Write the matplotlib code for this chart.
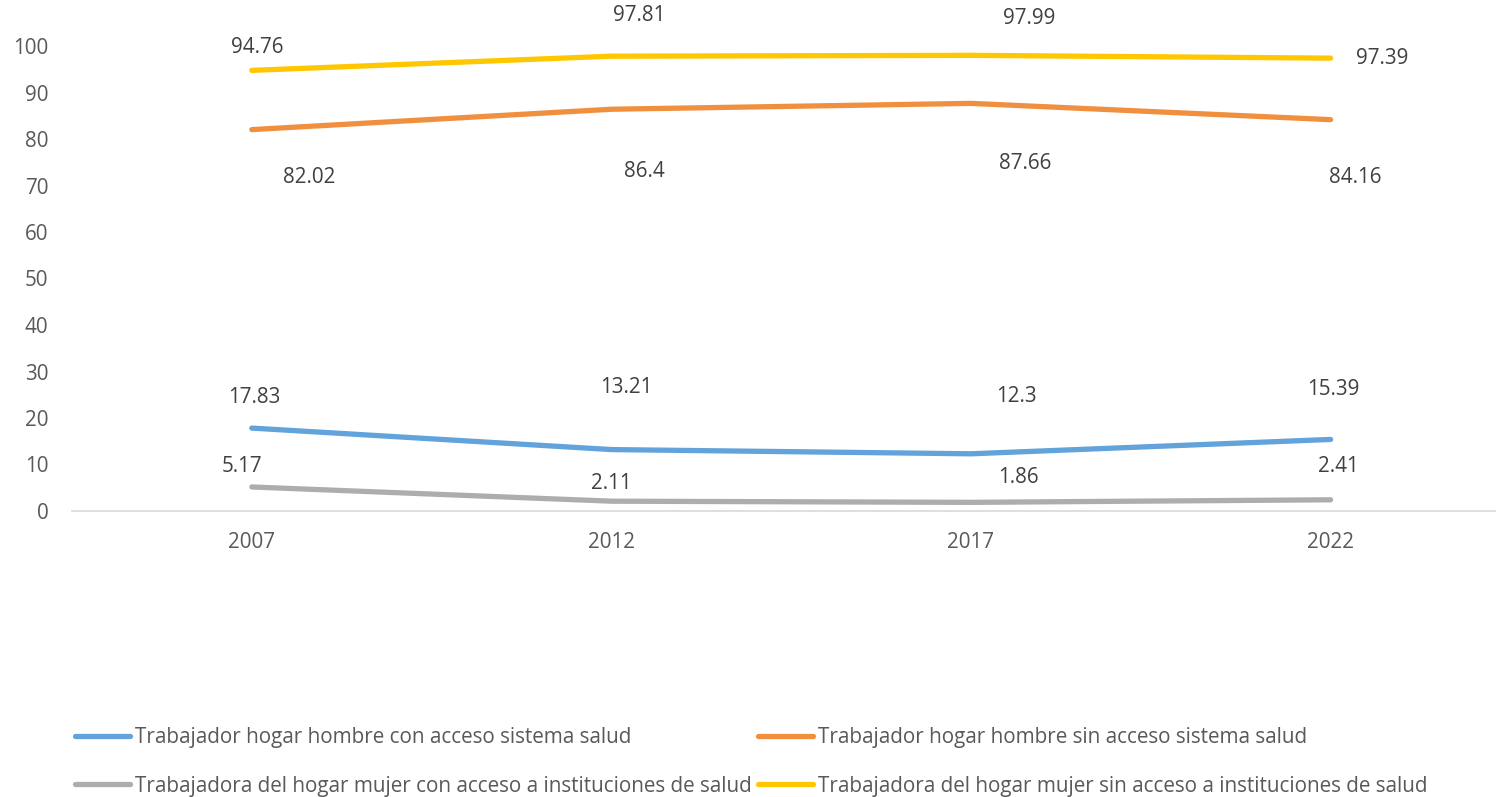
import matplotlib
matplotlib.use("Agg")
import matplotlib.pyplot as plt

years = ["2007", "2012", "2017", "2022"]
hombre_con = [17.83, 13.21, 12.3, 15.39]
hombre_sin = [82.02, 86.4, 87.66, 84.16]
mujer_con = [5.17, 2.11, 1.86, 2.41]
mujer_sin = [94.76, 97.81, 97.99, 97.39]
labels = [
    "Trabajador hogar hombre con acceso sistema salud",
    "Trabajador hogar hombre sin acceso sistema salud",
    "Trabajadora del hogar mujer con acceso a instituciones de salud",
    "Trabajadora del hogar mujer sin acceso a instituciones de salud",
]

plt.rcParams["font.family"] = ["Open Sans", "DejaVu Sans"]
txt = "#404040"
tick_col = "#595959"
fs = 14.9

W, H = 1496, 797
fig = plt.figure(figsize=(W / 100, H / 100), dpi=100)
ax = fig.add_axes([72 / W, (H - 511) / H, (W - 72) / W, 511.5 / H])

# label offsets (pixels) copy the hand-placed labels of the original
series = [
    (hombre_con, "#62A3DB", labels[0],
     [(3, 31), (15, 62), (45, 57), (3, 50)]),
    (hombre_sin, "#F0903F", labels[1],
     [(57, -48), (33, -62), (54, -60), (25, -58)]),
    (mujer_con, "#ADADAD", labels[2],
     [(-10, 20), (0, 18), (47, 25), (8, 33)]),
    (mujer_sin, "#FFC700", labels[3],
     [(5, 23), (28, 41), (58, 37), (52, 0)]),
]

x = list(range(len(years)))
handles = {}
for vals, col, lab, offs in series:
    ln, = ax.plot(x, vals, color=col, lw=3.8, solid_capstyle="round", label=lab)
    handles[lab] = ln
    for xi, v, (dx, dy) in zip(x, vals, offs):
        ax.annotate(f"{v:g}", (xi, v), xytext=(dx, dy), textcoords="offset pixels",
                    ha="center", va="center", fontsize=fs, color=txt)

ax.set_xlim(-0.5, 3.46)
ax.set_ylim(0, 110)
ax.set_yticks(range(0, 101, 10))
ax.set_xticks(x)
ax.set_xticklabels(years)
for s in ["top", "right", "left"]:
    ax.spines[s].set_visible(False)
ax.spines["bottom"].set_color("#D9D9D9")
ax.spines["bottom"].set_linewidth(1.2)
ax.tick_params(axis="both", length=0, labelsize=fs, labelcolor=tick_col)
ax.tick_params(axis="y", pad=17)
ax.tick_params(axis="x", pad=15)

order = [labels[0], labels[2], labels[1], labels[3]]
leg = fig.legend([handles[l] for l in order], order, loc="upper left",
                 bbox_to_anchor=(75 / W, 1 - 727 / H), ncol=2, frameon=False,
                 fontsize=fs, handlelength=2.65, handletextpad=0.25,
                 columnspacing=0.3, labelspacing=1.33, borderaxespad=0,
                 borderpad=0)
for t in leg.get_texts():
    t.set_color(tick_col)

fig.savefig("out.png", dpi=100)
